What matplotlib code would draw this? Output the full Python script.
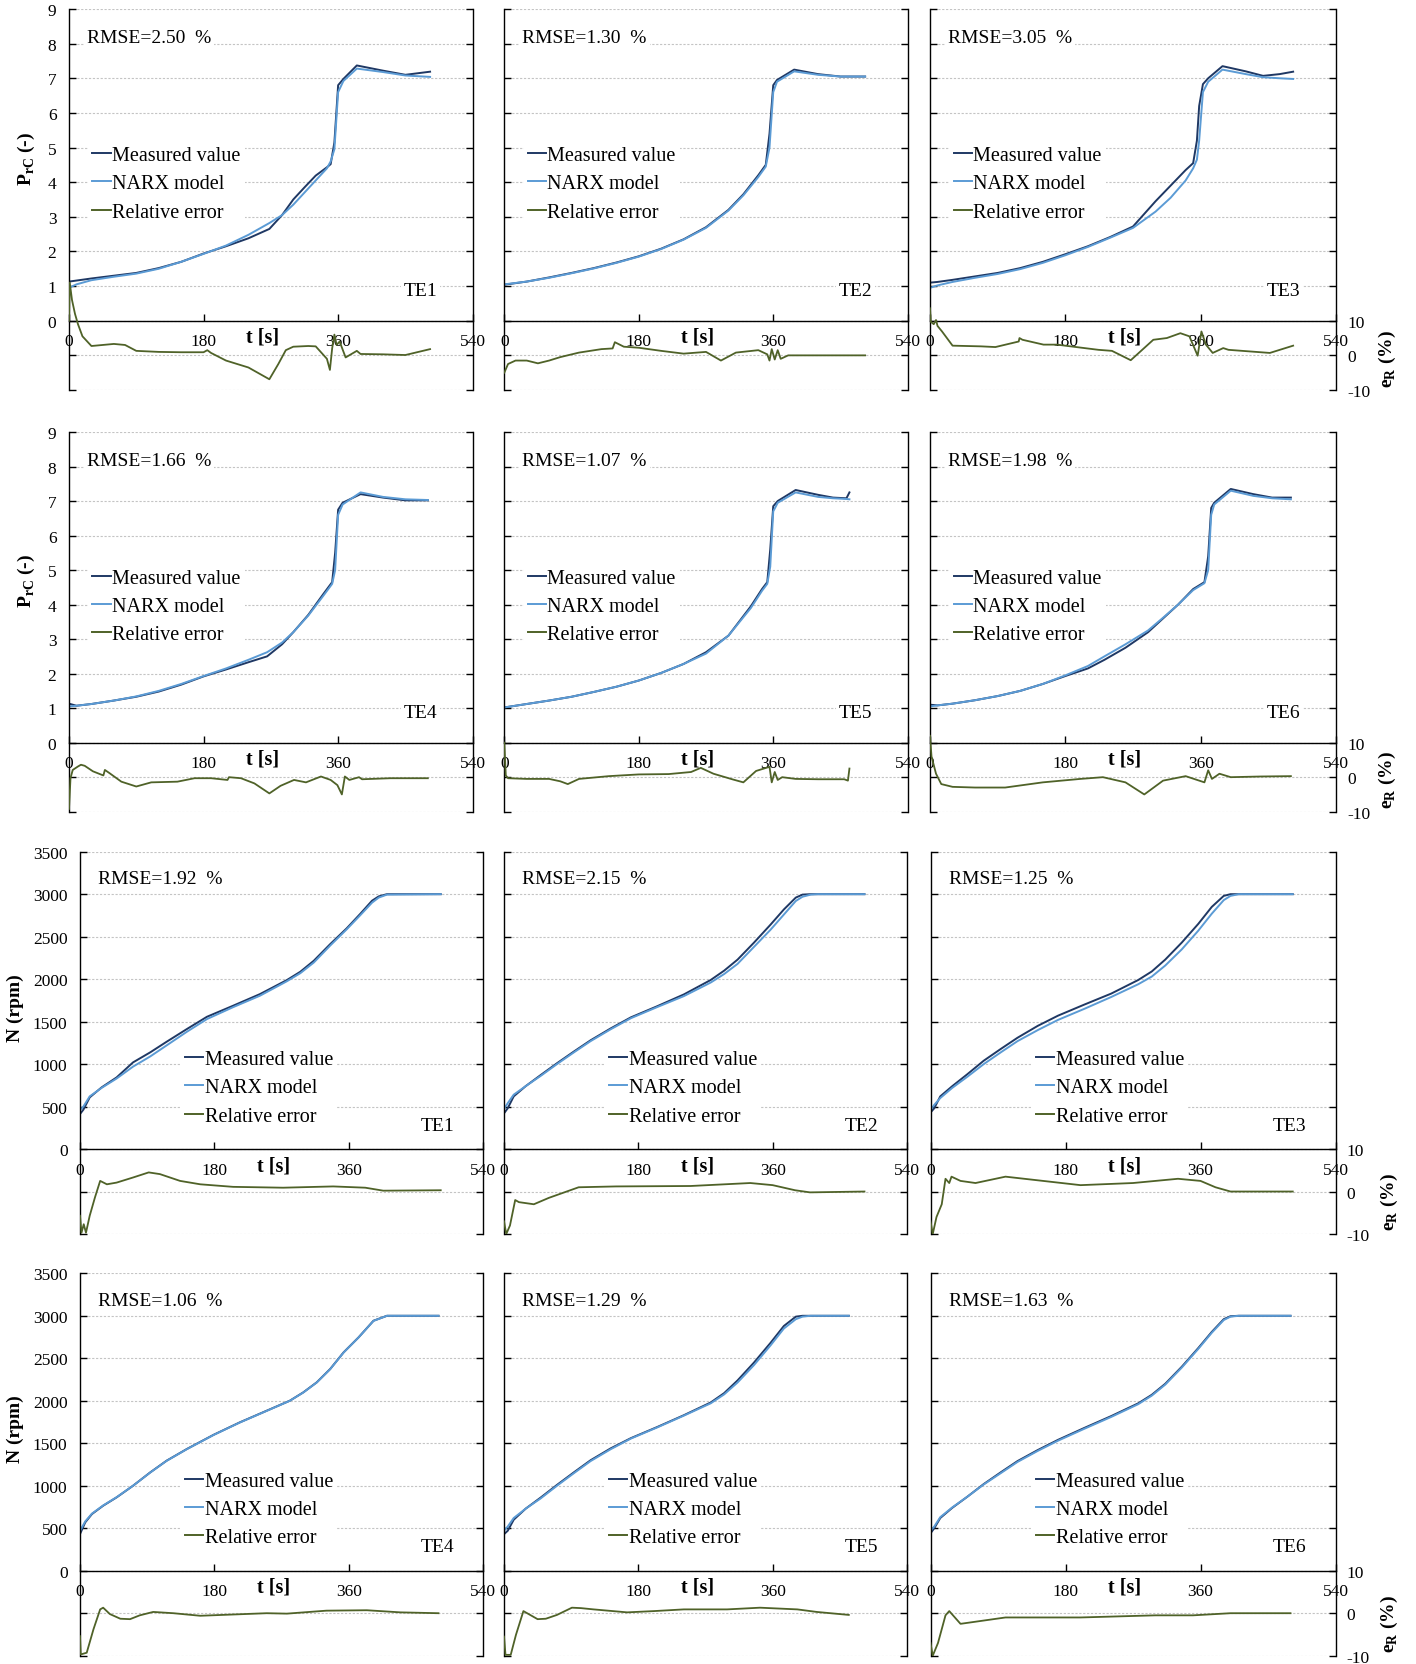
import numpy as np
import matplotlib.pyplot as plt
from matplotlib.lines import Line2D

plt.rcParams['font.family'] = 'Liberation Serif'
plt.rcParams['mathtext.fontset'] = 'custom'
plt.rcParams['mathtext.rm'] = 'Liberation Serif'
plt.rcParams['mathtext.bf'] = 'Liberation Serif:bold'

C_MEAS = '#1f3864'
C_NARX = '#5b9bd5'
C_ERR = '#4f6228'

# ---- pressure ratio P_rC, tests TE1..TE6 ----
t_p1 = [0, 10, 30, 60, 90, 120, 150, 180, 210, 240, 268, 285, 300, 315, 330, 345, 350, 355, 360, 367, 385, 420, 450, 483]
p1_meas = [1.13, 1.16, 1.22, 1.30, 1.38, 1.52, 1.70, 1.94, 2.15, 2.38, 2.65, 3.05, 3.50, 3.85, 4.19, 4.43, 4.52, 5.15, 6.80, 6.98, 7.37, 7.22, 7.10, 7.19]
p1_narx = [0.95, 1.05, 1.17, 1.27, 1.36, 1.50, 1.70, 1.93, 2.17, 2.48, 2.82, 3.05, 3.35, 3.70, 4.05, 4.40, 4.60, 4.95, 6.60, 6.92, 7.28, 7.18, 7.08, 7.04]
te_p1 = [0, 1, 4, 8, 12, 18, 30, 60, 75, 90, 120, 150, 180, 185, 190, 210, 240, 268, 280, 290, 300, 320, 330, 345, 349, 352, 355, 358, 362, 370, 385, 390, 420, 450, 483]
pe1 = [10, 21, 16, 12, 9, 5.5, 2.7, 3.3, 3.0, 1.3, 1.0, 0.9, 0.9, 1.5, 0.7, -1.5, -3.5, -6.9, -2.5, 1.5, 2.5, 2.7, 2.6, -1.0, -4.2, 2.0, 6.0, 3.0, 4.0, -0.6, 1.3, 0.4, 0.3, 0.1, 1.8]

t_p2 = [0, 30, 60, 90, 120, 150, 180, 210, 240, 270, 300, 320, 340, 350, 355, 360, 365, 388, 420, 450, 483]
p2_meas = [1.04, 1.13, 1.25, 1.38, 1.52, 1.68, 1.86, 2.08, 2.35, 2.70, 3.20, 3.65, 4.20, 4.50, 5.40, 6.80, 6.95, 7.25, 7.12, 7.05, 7.05]
p2_narx = [1.05, 1.13, 1.24, 1.37, 1.51, 1.67, 1.85, 2.07, 2.34, 2.68, 3.18, 3.62, 4.15, 4.45, 5.00, 6.60, 6.90, 7.20, 7.10, 7.05, 7.05]
te_p2 = [0, 5, 15, 30, 45, 60, 75, 100, 130, 145, 148, 160, 180, 210, 240, 270, 290, 310, 340, 352, 355, 358, 362, 366, 370, 380, 400, 440, 483]
pe2 = [-5, -2.5, -1.5, -1.5, -2.3, -1.5, -0.5, 0.8, 1.8, 2.0, 3.8, 2.5, 2.2, 1.3, 0.5, 1.0, -1.5, 0.8, 1.5, 0.3, -1.5, 1.8, -1.2, 1.5, -1.0, 0, 0, 0, 0]

t_p3 = [0, 10, 30, 60, 90, 120, 150, 180, 210, 240, 270, 300, 320, 340, 350, 355, 358, 363, 370, 389, 420, 443, 465, 483]
p3_meas = [1.10, 1.12, 1.18, 1.28, 1.38, 1.52, 1.70, 1.92, 2.15, 2.42, 2.72, 3.45, 3.90, 4.35, 4.55, 5.20, 6.20, 6.83, 7.00, 7.35, 7.20, 7.07, 7.12, 7.19]
p3_narx = [0.95, 1.02, 1.12, 1.24, 1.35, 1.49, 1.67, 1.89, 2.13, 2.40, 2.68, 3.15, 3.55, 4.05, 4.40, 4.65, 5.20, 6.60, 6.90, 7.25, 7.12, 7.03, 7.00, 6.98]
te_p3 = [0, 1, 5, 8, 10, 16, 30, 68, 87, 118, 119, 123, 151, 169, 187, 224, 242, 267, 297, 315, 333, 345, 356, 361, 367, 376, 390, 397, 452, 483]
pe3 = [13.6, 9.7, 9.0, 10.2, 8.5, 6.9, 2.8, 2.6, 2.4, 4.0, 5.0, 4.5, 3.1, 3.1, 2.6, 1.6, 1.3, -1.4, 4.5, 5.0, 6.4, 5.5, -0.1, 6.9, 3.1, 0.7, 2.1, 1.6, 0.7, 2.8]

t_p4 = [0, 10, 30, 60, 90, 120, 150, 180, 210, 240, 265, 285, 300, 320, 340, 352, 356, 360, 366, 390, 420, 450, 480]
p4_meas = [1.13, 1.07, 1.12, 1.22, 1.33, 1.48, 1.68, 1.92, 2.12, 2.33, 2.50, 2.85, 3.20, 3.70, 4.30, 4.65, 5.50, 6.75, 6.95, 7.20, 7.10, 7.02, 7.02]
p4_narx = [1.05, 1.07, 1.12, 1.22, 1.34, 1.50, 1.70, 1.93, 2.15, 2.40, 2.62, 2.90, 3.20, 3.68, 4.25, 4.60, 5.00, 6.60, 6.90, 7.25, 7.12, 7.05, 7.03]
te_p4 = [0, 2, 5, 12, 16, 21, 32, 46, 48, 54, 70, 90, 110, 145, 168, 190, 212, 214, 230, 248, 268, 283, 301, 317, 337, 350, 359, 365, 369, 375, 388, 392, 430, 480]
pe4 = [-9.2, -0.3, 2.1, 3.1, 3.6, 3.3, 1.7, 0.5, 2.1, 1.2, -1.3, -2.7, -1.5, -1.3, -0.3, -0.3, -0.8, 0, -0.3, -1.8, -4.7, -2.5, -0.8, -1.5, 0.2, -0.8, -2.3, -5.0, 0.2, -0.8, 0, -0.6, -0.3, -0.3]

t_p5 = [0, 30, 60, 90, 120, 150, 180, 210, 240, 270, 300, 330, 345, 352, 356, 360, 366, 390, 420, 440, 458, 462]
p5_meas = [1.02, 1.12, 1.22, 1.33, 1.47, 1.62, 1.80, 2.02, 2.28, 2.62, 3.10, 3.95, 4.45, 4.65, 5.60, 6.85, 7.00, 7.32, 7.18, 7.10, 7.08, 7.25]
p5_narx = [1.02, 1.12, 1.22, 1.33, 1.47, 1.62, 1.80, 2.02, 2.28, 2.58, 3.10, 3.90, 4.40, 4.60, 5.10, 6.70, 6.95, 7.25, 7.12, 7.08, 7.06, 7.05]
te_p5 = [0, 2, 5, 30, 60, 75, 85, 100, 140, 180, 220, 250, 263, 280, 305, 320, 337, 355, 358, 362, 366, 372, 390, 420, 455, 460, 462]
pe5 = [10, 0.5, -0.3, -0.5, -0.5, -1.2, -2.0, -0.5, 0.3, 0.8, 0.9, 1.5, 2.7, 1.0, -0.6, -1.5, 1.8, 3.0, -1.5, 1.5, -0.8, 0, -0.5, -0.6, -0.6, -1.0, 2.5]

t_p6 = [0, 10, 30, 60, 90, 120, 150, 180, 210, 232, 260, 290, 310, 330, 350, 365, 370, 374, 378, 400, 430, 455, 480]
p6_meas = [1.10, 1.08, 1.13, 1.23, 1.35, 1.50, 1.70, 1.93, 2.15, 2.40, 2.75, 3.20, 3.60, 4.00, 4.45, 4.65, 5.40, 6.80, 6.95, 7.35, 7.20, 7.10, 7.10]
p6_narx = [1.05, 1.08, 1.13, 1.23, 1.35, 1.50, 1.70, 1.95, 2.22, 2.50, 2.85, 3.25, 3.62, 4.00, 4.42, 4.62, 5.00, 6.60, 6.90, 7.30, 7.15, 7.08, 7.05]
te_p6 = [0, 2, 8, 15, 30, 60, 100, 150, 200, 230, 260, 285, 310, 340, 365, 370, 375, 385, 400, 440, 480]
pe6 = [12, 6, 1, -2, -2.8, -3.0, -3.0, -1.5, -0.5, 0, -1.5, -5.0, -1.0, 0.3, -1.5, 2.0, -0.5, 1.0, 0, 0.2, 0.3]

# ---- shaft speed N, tests TE1..TE6 ----
t_n1 = [0, 4.5, 13, 29, 49, 71, 94, 116, 143, 170, 205, 241, 277, 295, 313, 335, 357, 375, 391, 400, 411, 483]
n1_meas = [412, 463, 608, 726, 843, 1020, 1138, 1263, 1412, 1557, 1687, 1824, 1989, 2087, 2216, 2412, 2597, 2766, 2923, 2974, 3000, 3000]
n1_narx = [460, 500, 620, 720, 830, 970, 1090, 1220, 1380, 1530, 1670, 1805, 1975, 2070, 2195, 2395, 2585, 2750, 2900, 2960, 2995, 3000]
te_n1 = [0, 2, 5, 8, 13, 20, 27, 36, 49, 71, 92, 107, 134, 161, 205, 272, 339, 382, 406, 483]
ne1 = [-5.7, -9.7, -7.7, -9.7, -5.7, -1.4, 2.5, 1.7, 2.1, 3.3, 4.5, 4.1, 2.5, 1.7, 1.1, 0.9, 1.2, 0.9, 0.2, 0.3]

t_n2 = [0, 5, 13, 29, 49, 71, 94, 116, 143, 170, 205, 241, 277, 295, 313, 335, 357, 375, 391, 400, 411, 420, 483]
n2_meas = [420, 480, 620, 740, 870, 1010, 1150, 1280, 1420, 1550, 1680, 1820, 1990, 2100, 2230, 2430, 2640, 2820, 2960, 2995, 3000, 3000, 3000]
n2_narx = [470, 540, 640, 740, 860, 1000, 1140, 1270, 1410, 1540, 1670, 1800, 1960, 2060, 2180, 2380, 2580, 2760, 2920, 2970, 2995, 3000, 3000]
te_n2 = [0, 3, 8, 15, 20, 40, 60, 100, 150, 250, 330, 360, 390, 410, 483]
ne2 = [-7, -10, -8, -2, -2.5, -3, -1.5, 1, 1.2, 1.3, 2, 1.5, 0.3, -0.2, 0]

t_n3 = [0, 5, 13, 29, 49, 71, 94, 116, 143, 170, 205, 241, 277, 295, 313, 335, 357, 375, 391, 400, 411, 483]
n3_meas = [430, 480, 620, 740, 880, 1040, 1180, 1310, 1450, 1570, 1700, 1830, 1990, 2090, 2230, 2430, 2650, 2850, 2980, 3000, 3000, 3000]
n3_narx = [460, 520, 600, 720, 850, 1000, 1140, 1270, 1400, 1520, 1650, 1790, 1940, 2030, 2160, 2350, 2570, 2770, 2930, 2980, 3000, 3000]
te_n3 = [0, 3, 8, 15, 20, 25, 28, 40, 60, 100, 150, 200, 270, 330, 360, 380, 400, 483]
ne3 = [-7, -10, -6, -3, 3, 2, 3.5, 2.5, 2, 3.5, 2.5, 1.5, 2, 3, 2.5, 1, 0, 0]

t_n4 = [0, 7, 16, 31, 49, 71, 94, 116, 143, 179, 214, 250, 281, 299, 317, 335, 353, 373, 393, 411, 480]
n4_meas = [431, 569, 667, 765, 863, 1000, 1157, 1295, 1432, 1600, 1746, 1883, 2001, 2099, 2217, 2374, 2570, 2746, 2942, 3000, 3000]
n4_narx = [470, 580, 672, 768, 865, 1000, 1155, 1293, 1430, 1598, 1744, 1881, 2000, 2097, 2215, 2372, 2568, 2745, 2940, 3000, 3000]
te_n4 = [0, 1, 9, 18, 27, 31, 40, 54, 67, 80, 98, 125, 161, 250, 277, 330, 384, 429, 480]
ne4 = [-5.4, -9.7, -9.3, -3.8, 0.9, 1.3, -0.2, -1.3, -1.4, -0.5, 0.3, 0, -0.6, 0, -0.1, 0.6, 0.7, 0.2, 0]

t_n5 = [0, 5, 13, 29, 49, 71, 94, 116, 143, 170, 205, 241, 277, 295, 313, 335, 357, 375, 391, 400, 411, 462]
n5_meas = [430, 470, 600, 730, 860, 1010, 1160, 1300, 1440, 1560, 1690, 1830, 1980, 2090, 2240, 2450, 2680, 2880, 2990, 3000, 3000, 3000]
n5_narx = [470, 520, 620, 730, 850, 1000, 1150, 1290, 1430, 1555, 1685, 1825, 1970, 2075, 2215, 2420, 2650, 2850, 2960, 2990, 3000, 3000]
te_n5 = [0, 2, 9, 16, 26, 33, 45, 56, 71, 91, 103, 120, 165, 201, 241, 299, 343, 393, 419, 462]
ne5 = [-5.5, -9.8, -9.8, -5.1, 0.5, -0.2, -1.4, -1.3, -0.4, 1.3, 1.2, 0.9, 0.2, 0.5, 0.9, 0.9, 1.3, 0.9, 0.3, -0.4]

t_n6 = [0, 5, 13, 29, 49, 71, 94, 116, 143, 170, 205, 241, 277, 295, 313, 335, 357, 375, 391, 400, 411, 480]
n6_meas = [440, 500, 620, 740, 870, 1020, 1160, 1290, 1420, 1540, 1680, 1820, 1970, 2070, 2200, 2400, 2620, 2810, 2960, 2995, 3000, 3000]
n6_narx = [470, 520, 630, 745, 870, 1015, 1150, 1280, 1410, 1530, 1670, 1810, 1960, 2060, 2190, 2390, 2610, 2800, 2950, 2990, 3000, 3000]
te_n6 = [0, 3, 10, 20, 25, 40, 60, 100, 200, 300, 350, 400, 480]
ne6 = [-7, -10, -7, -0.5, 0.5, -2.5, -2, -1, -1, -0.5, -0.5, 0, 0]

rmse_p = [2.50, 1.30, 3.05, 1.66, 1.07, 1.98]
rmse_n = [1.92, 2.15, 1.25, 1.06, 1.29, 1.63]
tags = ['TE1', 'TE2', 'TE3', 'TE4', 'TE5', 'TE6']
t_ticks = [0, 180, 360, 540]

W, H = 1416, 1665
fig = plt.figure(figsize=(W / 100, H / 100), dpi=100)

# panel frames in pixels
cols_p = [(69, 472.7), (504.3, 907.7), (930, 1336)]
cols_n = [(80, 483.3), (504, 907), (930.5, 1335.5)]
rows = [(10, 391), (433, 812.7), (852.7, 1235), (1274.3, 1656.7)]


def panel(cx, ry, kind, col, t, meas, narx, te, err, rmse, tag):
    x0, x1 = cx
    y0, y1 = ry
    ax = fig.add_axes([x0 / W, 1 - y1 / H, (x1 - x0) / W, (y1 - y0) / H])
    ax2 = ax.twinx()
    h_px = y1 - y0
    if kind == 'p':
        ylo, yhi, step, ehi = -2, 9, 1, 100
    else:
        ylo, yhi, step, ehi = -1000, 3500, 500, 80

    ax.plot(t, meas, color=C_MEAS, lw=1.4)
    ax.plot(t, narx, color=C_NARX, lw=1.4)
    ax2.plot(te, err, color=C_ERR, lw=1.3)

    ax.set_xlim(0, 540)
    ax.set_ylim(ylo, yhi)
    ax2.set_ylim(-10, ehi)

    yt = np.arange(ylo, yhi + step, step)
    ax.set_yticks(yt)
    ax.set_yticklabels([str(int(v)) if (v >= 0 and col == 0) else '' for v in yt])
    et = np.arange(-10, ehi + 1, 10)
    ax2.set_yticks(et)
    ax2.set_yticklabels([str(int(v)) if (v <= 10 and col == 2) else '' for v in et])
    ax.set_xticks(t_ticks)
    ax.set_xticklabels([str(v) for v in t_ticks])

    ax.grid(axis='y', color='#c4c4c4', ls=(0, (2, 1.5)), lw=0.8)
    ax.spines['top'].set_visible(False)
    ax.spines['right'].set_visible(False)
    ax.spines['bottom'].set_position(('data', 0))
    for s in ['top', 'bottom', 'left']:
        ax2.spines[s].set_visible(False)
    for s in [ax.spines['left'], ax.spines['bottom'], ax2.spines['right']]:
        s.set_color('black')
        s.set_linewidth(1.0)

    ax.tick_params(axis='both', direction='in', length=5, width=1, labelsize=12.5, pad=9)
    ax2.tick_params(axis='y', direction='in', length=5, width=1, labelsize=12.5, pad=8)

    zero = -ylo / (yhi - ylo)
    ax2.text(0.48, zero - 16 / h_px, 't [s]', transform=ax.transAxes, ha='center', va='center',
             fontsize=14.5, fontweight='bold')

    if kind == 'p':
        rm_y, tag_x, tag_y, leg_xy = 0.924, 0.913, 0.262, (0.048, 0.651)
        ylab, ylab_xy = r'$\mathbf{P}_{\mathbf{rC}}$ (-)', (-0.105, 0.61)
    else:
        rm_y, tag_x, tag_y, leg_xy = 0.929, 0.928, 0.285, (0.25, 0.492)
        ylab, ylab_xy = 'N (rpm)', (-0.161, 0.594)

    box = dict(facecolor='white', edgecolor='none', pad=2)
    ax2.text(0.045, rm_y, 'RMSE=%.2f  %%' % rmse, transform=ax.transAxes, ha='left', va='center',
             fontsize=14, bbox=box)
    ax2.text(tag_x, tag_y, tag, transform=ax.transAxes, ha='right', va='center',
             fontsize=14, bbox=box)

    handles = [Line2D([], [], color=C_MEAS, lw=1.4), Line2D([], [], color=C_NARX, lw=1.4),
               Line2D([], [], color=C_ERR, lw=1.4)]
    ax2.legend(handles, ['Measured value', 'NARX model', 'Relative error'], loc='upper left',
               bbox_to_anchor=leg_xy, fontsize=14.5, frameon=True, fancybox=False,
               edgecolor='none', facecolor='white', framealpha=1, handlelength=0.9,
               handletextpad=0.08, labelspacing=0.46, borderpad=0.2, borderaxespad=0)

    if col == 0:
        ax.text(ylab_xy[0], ylab_xy[1], ylab, transform=ax.transAxes, rotation=90,
                ha='center', va='center', fontsize=14, fontweight='bold')
    if col == 2:
        ex = 1.126 if kind == 'p' else 1.133
        ax.text(ex, 0.085, r'$\mathbf{e}_{\mathbf{R}}$ (%)', transform=ax.transAxes, rotation=90,
                ha='center', va='center', fontsize=14, fontweight='bold')


p_sets = [(t_p1, p1_meas, p1_narx, te_p1, pe1), (t_p2, p2_meas, p2_narx, te_p2, pe2),
          (t_p3, p3_meas, p3_narx, te_p3, pe3), (t_p4, p4_meas, p4_narx, te_p4, pe4),
          (t_p5, p5_meas, p5_narx, te_p5, pe5), (t_p6, p6_meas, p6_narx, te_p6, pe6)]
n_sets = [(t_n1, n1_meas, n1_narx, te_n1, ne1), (t_n2, n2_meas, n2_narx, te_n2, ne2),
          (t_n3, n3_meas, n3_narx, te_n3, ne3), (t_n4, n4_meas, n4_narx, te_n4, ne4),
          (t_n5, n5_meas, n5_narx, te_n5, ne5), (t_n6, n6_meas, n6_narx, te_n6, ne6)]

for i in range(6):
    r, c = divmod(i, 3)
    panel(cols_p[c], rows[r], 'p', c, *p_sets[i], rmse_p[i], tags[i])
    panel(cols_n[c], rows[r + 2], 'n', c, *n_sets[i], rmse_n[i], tags[i])

fig.savefig('out.png', dpi=100)
